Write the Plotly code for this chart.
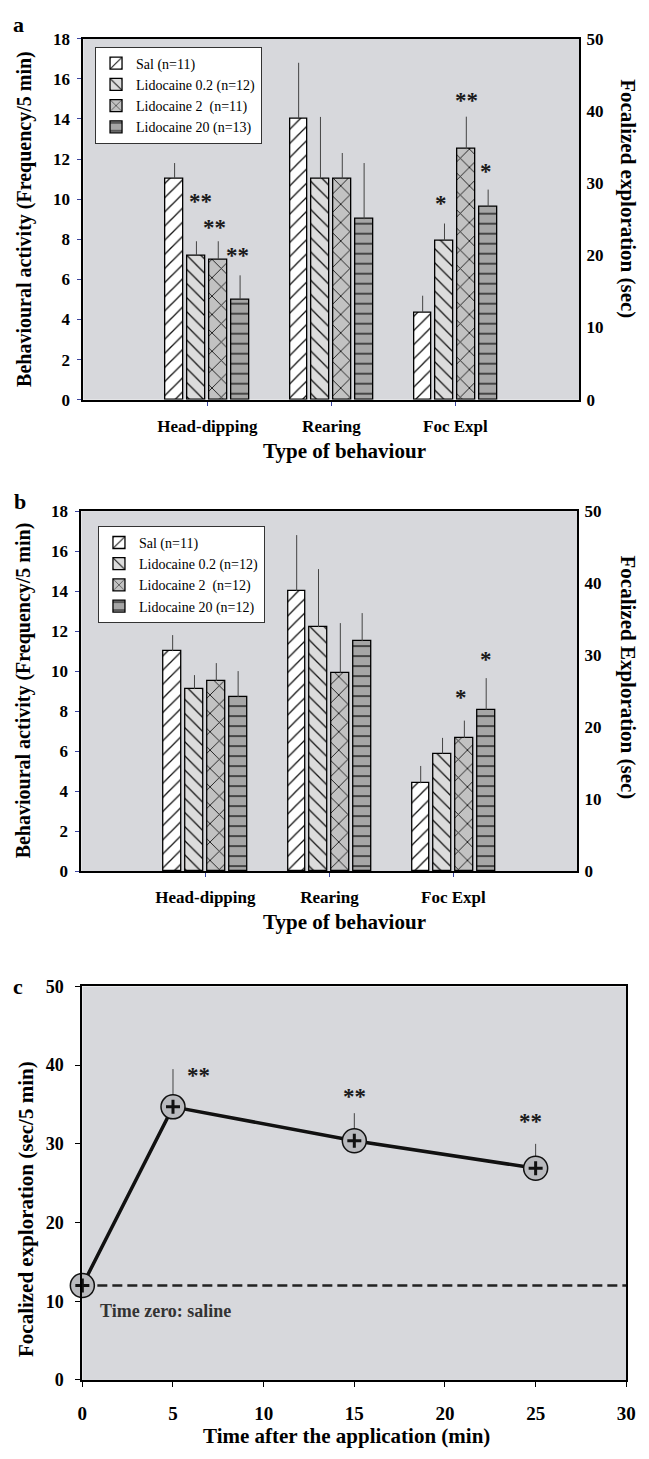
import plotly.graph_objects as go

# ---------------- data ----------------
categories = ["Head-dipping", "Rearing", "Foc Expl"]
series_a = ["Sal (n=11)", "Lidocaine 0.2 (n=12)", "Lidocaine 2  (n=11)", "Lidocaine 20 (n=13)"]
series_b = ["Sal (n=11)", "Lidocaine 0.2 (n=12)", "Lidocaine 2  (n=12)", "Lidocaine 20 (n=12)"]

# panel a: head-dipping & rearing (frequency), foc expl (sec)
a_freq = [[11.0, 14.0], [7.2, 11.0], [7.0, 11.0], [5.0, 9.0]]
a_freq_err = [[0.8, 2.8], [0.7, 3.1], [0.9, 1.3], [1.2, 2.8]]
a_foc = [12.0, 22.0, 34.7, 26.7]
a_foc_err = [2.4, 2.4, 4.5, 2.4]

# panel b
b_freq = [[11.0, 14.0], [9.1, 12.2], [9.5, 9.9], [8.7, 11.5]]
b_freq_err = [[0.8, 2.8], [0.7, 2.9], [0.9, 2.5], [1.3, 1.4]]
b_foc = [12.2, 16.3, 18.5, 22.4]
b_foc_err = [2.4, 2.2, 2.4, 4.4]

# panel c
time_min = [0, 5, 15, 25]
foc_time = [12.0, 34.7, 30.4, 26.9]
foc_time_err = [0.0, 4.8, 3.5, 3.1]
saline_baseline = 12.0
x_ticks_c = [0, 5, 10, 15, 20, 25, 30]

# ---------------- styles ----------------
OFF = 8                      # default page margin of the html body
W, H = 649 - OFF, 1459 - OFF
FONT = "Liberation Serif"
fills = ["#ffffff", "#dcdcdc", "#c2c2c2", "#a6a6a6"]
shapes = ["/", "\\", "x", "-"]
pat_sizes = [10, 10, 13, 10]
bar_w = 0.142
offsets = [-0.335, -0.159, 0.017, 0.193]
BG = "#d7d8dc"
TICKBLUE = "#3a44a0"


def px(x):
    return (x - OFF) / W


def py(y):
    return 1 - (y - OFF) / H


fig = go.Figure()


def add_bars(names, freq, freq_err, foc, foc_err, xa, ya_left, ya_right, legend):
    for i in range(4):
        marker = dict(
            color=fills[i],
            line=dict(color="black", width=1.3),
            pattern=dict(shape=shapes[i], fgcolor="#111111", bgcolor=fills[i],
                         size=pat_sizes[i], solidity=0.13, fillmode="replace"),
        )
        err = dict(type="data", symmetric=False, width=0, thickness=1, color="#444444")
        fig.add_trace(go.Bar(
            x=categories[:2], y=freq[i], width=bar_w, offset=offsets[i],
            marker=marker, name=names[i], legend=legend,
            error_y=dict(err, array=freq_err[i], arrayminus=[0, 0]),
            xaxis=xa, yaxis=ya_left, showlegend=True,
        ))
        fig.add_trace(go.Bar(
            x=categories[2:], y=[foc[i]], width=bar_w, offset=offsets[i],
            marker=marker, name=names[i], legend=legend,
            error_y=dict(err, array=[foc_err[i]], arrayminus=[0]),
            xaxis=xa, yaxis=ya_right, showlegend=False,
        ))


add_bars(series_a, a_freq, a_freq_err, a_foc, a_foc_err, "x", "y", "y2", "legend")
add_bars(series_b, b_freq, b_freq_err, b_foc, b_foc_err, "x2", "y3", "y4", "legend2")

# panel c
fig.add_trace(go.Scatter(
    x=[x_ticks_c[0], x_ticks_c[-1]], y=[saline_baseline, saline_baseline],
    mode="lines", line=dict(color="#222222", width=2.5, dash="10px,5px"),
    xaxis="x3", yaxis="y5", showlegend=False, cliponaxis=False,
))
fig.add_trace(go.Scatter(
    x=time_min, y=foc_time, mode="lines+markers",
    line=dict(color="#111111", width=3.5),
    marker=dict(symbol="circle", size=24, color="#b9babe", line=dict(color="#111111", width=1.5)),
    error_y=dict(type="data", symmetric=False, array=foc_time_err, arrayminus=[0] * 4,
                 width=0, thickness=1, color="#444444"),
    xaxis="x3", yaxis="y5", showlegend=False, cliponaxis=False,
))
fig.add_trace(go.Scatter(
    x=time_min, y=foc_time, mode="markers",
    marker=dict(symbol="cross-thin", size=10, line=dict(color="#111111", width=3)),
    xaxis="x3", yaxis="y5", showlegend=False, cliponaxis=False,
))

tickfont = dict(family=FONT, size=17, color="black", weight="bold")
frame = dict(showline=True, linecolor="black", linewidth=2, mirror=True, showgrid=False, zeroline=False)

cat_axis = dict(type="category", categoryorder="array", categoryarray=categories,
                range=[-1, 3], ticks="outside", ticklen=4, tickcolor=TICKBLUE,
                ticklabelstandoff=6,
                tickfont=dict(family=FONT, size=17, color="black", weight="bold"), **frame)
left_axis = dict(range=[0, 18], dtick=2, ticks="outside", ticklen=4, tickcolor=TICKBLUE,
                 ticklabelstandoff=4, tickfont=tickfont, **frame)
right_axis = dict(range=[0, 50], dtick=10, side="right", ticks="", showgrid=False,
                  zeroline=False, showline=False, ticklabelstandoff=6, tickfont=tickfont)

fig.update_layout(
    width=W, height=H, autosize=False,
    margin=dict(l=0, r=0, t=0, b=0),
    paper_bgcolor="white", plot_bgcolor=BG,
    font=dict(family=FONT, color="black"),
    bargap=0, barmode="overlay",
    xaxis=dict(cat_axis, domain=[px(80), px(588)], anchor="y"),
    yaxis=dict(left_axis, domain=[py(395), py(29)], anchor="x"),
    yaxis2=dict(right_axis, overlaying="y", anchor="x"),
    xaxis2=dict(cat_axis, domain=[px(78), px(586)], anchor="y3"),
    yaxis3=dict(left_axis, domain=[py(873), py(508)], anchor="x2"),
    yaxis4=dict(right_axis, overlaying="y3", anchor="x2"),
    xaxis3=dict(range=[0, 30], tickvals=x_ticks_c, ticks="outside", ticklen=5, tickcolor="black",
                ticklabelstandoff=10,
                tickfont=dict(tickfont, size=19), domain=[px(79), px(636)], anchor="y5", **frame),
    yaxis5=dict(range=[0, 50], dtick=10, ticks="outside", ticklen=5, tickcolor="black",
                ticklabelstandoff=8,
                tickfont=dict(tickfont, size=18), domain=[py(1389), py(990)], anchor="x3", **frame),
    legend=dict(x=px(92), y=py(37), xanchor="left", yanchor="top", bgcolor="white",
                bordercolor="#333333", borderwidth=1, font=dict(family=FONT, size=14),
                traceorder="normal", tracegroupgap=0, itemwidth=30),
    legend2=dict(x=px(95), y=py(523), xanchor="left", yanchor="top", bgcolor="white",
                 bordercolor="#333333", borderwidth=1, font=dict(family=FONT, size=14),
                 traceorder="normal", tracegroupgap=0, itemwidth=30),
)

ann = []


def text(x, y, s, size, angle=0, bold=True, xanchor="center", color="black"):
    ann.append(dict(x=px(x), y=py(y), xref="paper", yref="paper", text=s, showarrow=False,
                    textangle=angle, xanchor=xanchor, yanchor="middle",
                    font=dict(family=FONT, size=size, color=color, weight="bold" if bold else "normal")))


# panel labels
text(14, 15, "a", 22)
text(15, 498, "b", 22)
text(13, 990, "c", 22)
# axis titles
text(19, 212, "Behavioural activity (Frequency/5 min)", 20, angle=-90)
text(637, 191, "Focalized exploration (sec)", 21, angle=90)
text(347, 447, "Type of behaviour", 21)
text(19, 690, "Behavioural activity (Frequency/5 min)", 20, angle=-90)
text(638, 677, "Focalized Exploration (sec)", 21, angle=90)
text(347, 925, "Type of behaviour", 21)
text(22, 1216, "Focalized exploration (sec/5 min)", 21, angle=-90)
text(350, 1446, "Time after the application (min)", 21)


def star(x, y, s, xref, yref):
    ann.append(dict(x=x, y=y, xref=xref, yref=yref, text=s, showarrow=False, yshift=-6,
                    font=dict(family=FONT, size=23, color="#1a1a1a", weight="bold")))


star(-0.055, 10.2, "**", "x", "y")
star(0.055, 8.9, "**", "x", "y")
star(0.244, 7.5, "**", "x", "y")
star(1.88, 28.0, "*", "x", "y2")
star(2.087, 42.3, "**", "x", "y2")
star(2.25, 32.4, "*", "x", "y2")
star(2.063, 24.9, "*", "x2", "y4")
star(2.26, 30.2, "*", "x2", "y4")
star(6.4, 39.4, "**", "x3", "y5")
star(15.0, 36.75, "**", "x3", "y5")
star(24.7, 33.6, "**", "x3", "y5")

ann.append(dict(x=0.86, y=8.7, xref="x3", yref="y5", text="Time zero: saline", showarrow=False,
                xanchor="left", font=dict(family=FONT, size=18, color="#333333", weight="bold")))

fig.update_layout(annotations=ann)
fig.write_html("out.html")
